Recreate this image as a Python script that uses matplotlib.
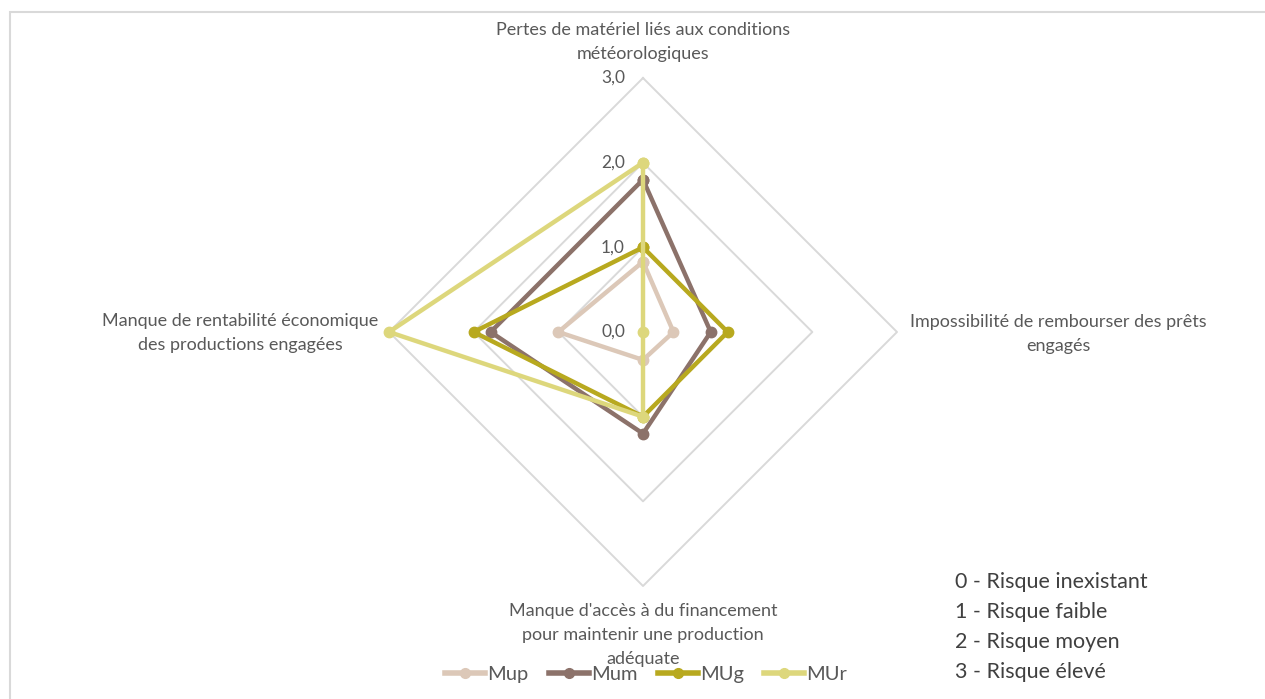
import numpy as np
import matplotlib
matplotlib.use("Agg")
import matplotlib.pyplot as plt
from matplotlib.patches import Rectangle
from matplotlib.lines import Line2D

plt.rcParams['font.family'] = ['Lato', 'DejaVu Sans']

categories = [
    "Pertes de matériel liés aux conditions\nmétéorologiques",
    "Impossibilité de rembourser des prêts\nengagés",
    "Manque d'accès à du financement\npour maintenir une production\nadéquate",
    "Manque de rentabilité économique\ndes productions engagées",
]
series_names = ["Mup", "Mum", "MUg", "MUr"]
mup = [0.83, 0.36, 0.33, 1.0]
mum = [1.8, 0.8, 1.2, 1.8]
mug = [1.0, 1.0, 1.0, 2.0]
mur = [2.0, 0.0, 1.0, 3.0]
series_values = [mup, mum, mug, mur]
colors = ["#DCC8B8", "#8C726A", "#B8A91F", "#DDD77C"]
tick_values = [0, 1, 2, 3]
tick_labels = ["0,0", "1,0", "2,0", "3,0"]
risk_lines = ["0 - Risque inexistant", "1 - Risque faible", "2 - Risque moyen", "3 - Risque élevé"]

W, H = 1265, 699
fig = plt.figure(figsize=(W / 100, H / 100), dpi=100)

# chart border (top and left visible)
fig.add_artist(Rectangle((10 / W, -0.1), 1.2, 1 - 12 / H + 0.1, transform=fig.transFigure,
                         fill=False, edgecolor="#D9D9D9", linewidth=1.5))

cx, cy, R = 643, 332, 254
ax = fig.add_axes([(cx - R) / W, (H - cy - R) / H, 2 * R / W, 2 * R / H], projection='polar')
ax.set_theta_offset(np.pi / 2)
ax.set_theta_direction(-1)
ax.set_ylim(0, 3)
ax.grid(False)
ax.spines['polar'].set_visible(False)
ax.set_xticks([])
ax.set_yticks([])
ax.patch.set_alpha(0)

n = len(categories)
angles = np.arange(n) * 2 * np.pi / n
closed = np.append(angles, angles[0])

# polygon grid
for lvl in tick_values[1:]:
    ax.plot(closed, [lvl] * (n + 1), color="#D9D9D9", lw=1.4, zorder=1, clip_on=False)

for vals, col in zip(series_values, colors):
    v = np.append(vals, vals[0])
    ax.plot(closed, v, color=col, lw=3.2, marker='o', ms=7.5, zorder=3, clip_on=False,
            solid_joinstyle='miter')

# radial tick labels
for tv, tl in zip(tick_values, tick_labels):
    ax.annotate(tl, xy=(0, tv), xytext=(-13, 0), textcoords='offset points',
                ha='right', va='center', fontsize=12.5, color="#595959")

# category labels
lab_kw = dict(fontsize=13, color="#595959", linespacing=1.58, ha='center')
fig.text(cx / W, 1 - 42 / H, categories[0], va='center', **lab_kw)
fig.text(1058 / W, 1 - 334 / H, categories[1], va='center', **lab_kw)
fig.text(cx / W, 1 - 635 / H, categories[2], va='center', **lab_kw)
fig.text(240 / W, 1 - 333 / H, categories[3], va='center', **lab_kw)

# legend
handles = [Line2D([0], [0], color=c, lw=4, marker='o', ms=7) for c in colors]
fig.legend(handles, series_names, loc='center', bbox_to_anchor=(646 / W, 1 - 674 / H),
           ncol=4, frameon=False, fontsize=14.5, handlelength=2.0, handletextpad=0.1,
           columnspacing=1.0, labelcolor="#595959", borderpad=0)

# risk scale text
for i, t in enumerate(risk_lines):
    fig.text(955 / W, 1 - (582 + 30 * i) / H, t, fontsize=15.5, color="#404040",
             ha='left', va='center')

fig.savefig("out.png", dpi=100)
